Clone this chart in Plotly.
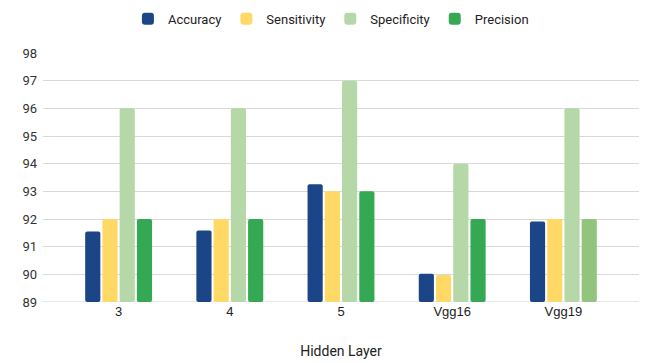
import plotly.graph_objects as go

categories = ["3", "4", "5", "Vgg16", "Vgg19"]
accuracy = [91.55, 91.58, 93.26, 90.02, 91.91]
sensitivity = [92, 92, 93, 89.98, 92]
specificity = [96, 96, 97, 94, 96]
precision = [92, 92, 93, 92, 92]

series = [
    ("Accuracy", accuracy, "#1c4587"),
    ("Sensitivity", sensitivity, "#ffd966"),
    ("Specificity", specificity, "#b6d7a8"),
    ("Precision", precision, ["#34a853", "#34a853", "#34a853", "#34a853", "#93c47d"]),
]

fig = go.Figure()
for name, vals, col in series:
    fig.add_trace(go.Bar(
        x=categories, y=[v - 89 for v in vals], base=89, name=name,
        marker=dict(color=col, cornerradius=2, line=dict(width=0)),
        hovertemplate="%{x}: %{y}<extra>" + name + "</extra>",
    ))

fig.update_layout(
    width=646, height=363,
    margin=dict(l=43, r=7, t=53, b=61, autoexpand=False),
    paper_bgcolor="white", plot_bgcolor="white",
    barmode="group", bargap=0.38, bargroupgap=0.12,
    font=dict(family="Liberation Sans, Arial", size=13, color="#222"),
    legend=dict(orientation="h", xref="container", yref="container",
                x=0.198, xanchor="left", y=0.948, yanchor="middle",
                font=dict(family="Roboto", size=13, color="#222"),
                itemwidth=30),
    showlegend=True,
)
fig.update_xaxes(
    range=[-0.68, 4.68], showgrid=False, showline=False, ticks="",
    tickfont=dict(family="Liberation Sans, Arial", size=13, color="#222"),
    title=dict(text="Hidden Layer", font=dict(family="Roboto", size=14, color="#222"), standoff=28),
)
fig.update_yaxes(
    range=[89, 98], dtick=1, showgrid=True, gridcolor="#d9d9d9", gridwidth=1,
    zeroline=False, showline=False, ticks="",
    tickfont=dict(family="Roboto", size=13, color="#333"),
    ticklabelstandoff=5,
)
fig.add_hline(y=89, line=dict(color="#cccccc", width=1), layer="below")

fig.write_html("out.html",
               config={"displayModeBar": False},
               post_script="document.body.style.margin='0';document.body.style.padding='0';")
